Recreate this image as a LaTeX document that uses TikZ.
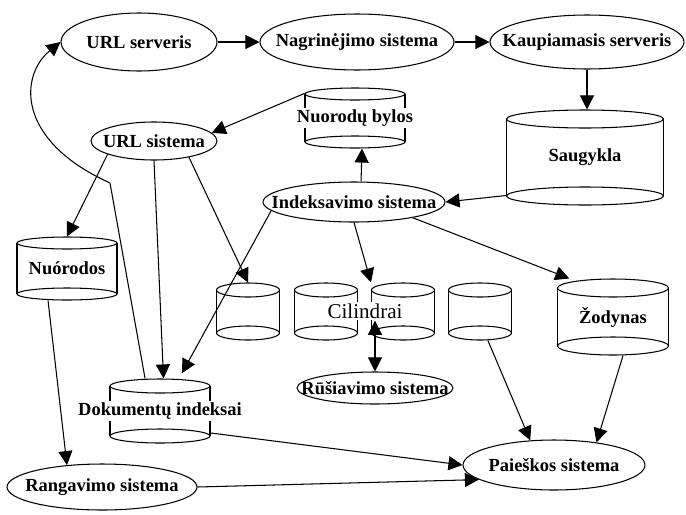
\documentclass[tikz,border=0pt]{standalone}
\usepackage{fontspec}
\setmainfont{Liberation Serif}
\usetikzlibrary{shapes.geometric,arrows.meta,fit}

% cylinder: name, x, top y, bottom y, half width, ellipse radius
\newcommand{\dbcyl}[6]{%
  \draw (#2-#5,#3) -- (#2-#5,#4) (#2+#5,#3) -- (#2+#5,#4);
  \draw (#2,#3) ellipse (#5 and #6);
  \draw (#2,#4) ellipse (#5 and #6);
  \coordinate (#1-tl) at (#2-#5,#3-#6);
  \coordinate (#1-br) at (#2+#5,#4+#6);
  \node[fit=(#1-tl)(#1-br), inner sep=0pt] (#1) {};
}

\begin{document}
\begin{tikzpicture}[x=0.02cm, y=-0.02cm, line width=0.6pt,
  proc/.style={ellipse, draw, inner sep=0pt,
    font=\bfseries\fontsize{10.5}{12}\selectfont,
    execute at begin node={\hbox to 0pt\bgroup\hss},
    execute at end node={\hss\egroup}},
  dbtext/.style={fill=white, inner sep=1pt,
    font=\bfseries\fontsize{10.5}{12}\selectfont},
  arr/.style={-{Triangle[length=8pt,width=8pt]}},
  arrboth/.style={{Triangle[length=8pt,width=8pt]}-{Triangle[length=8pt,width=8pt]}}]

\useasboundingbox (0,0) rectangle (686,514);

% processes
\node[proc, minimum width=3.12cm, minimum height=1.16cm] (urlserv) at (139,42) {URL serveris};
\node[proc, minimum width=3.88cm, minimum height=1.12cm] (nagr) at (357,42) {Nagrinėjimo sistema};
\node[proc, minimum width=3.88cm, minimum height=1.08cm] (kaup) at (587,42) {Kaupiamasis serveris};
\node[proc, minimum width=2.52cm, minimum height=0.76cm] (urlsys) at (154,141) {URL sistema};
\node[proc, minimum width=3.64cm, minimum height=0.8cm] (indeks) at (354,202) {Indeksavimo sistema};
\node[proc, minimum width=3.12cm, minimum height=0.64cm] (rusi) at (375,388) {Rūšiavimo sistema};
\node[proc, minimum width=3.8cm, minimum height=0.92cm] (rang) at (102,487) {Rangavimo sistema};
\node[proc, minimum width=3.64cm, minimum height=1.0cm] (paie) at (554,465) {Paieškos sistema};

% storage
\dbcyl{saug}{585}{119}{196}{78.5}{9}
\dbcyl{nbylos}{355}{94}{142}{50}{6}
\dbcyl{nuor}{67}{243}{294}{50}{6}
\dbcyl{cyl1}{248}{290}{333}{31.5}{7}
\dbcyl{cyl2}{326}{290}{333}{31.5}{7}
\dbcyl{cyl3}{403}{290}{333}{31.5}{7}
\dbcyl{cyl4}{480}{290}{333}{31.5}{7}
\dbcyl{zod}{613}{288}{346}{55.5}{9}
\dbcyl{dok}{160}{386}{436}{50}{7}

\node[dbtext] at (saug) {Saugykla};
\node[dbtext] at (nbylos) {Nuorodų bylos};
\node[dbtext] at (nuor) {Nuórodos};
\node[dbtext] at (zod) {Žodynas};
\node[dbtext] at (dok) {Dokumentų indeksai};
\node[fill=white, inner sep=1pt, font=\fontsize{12}{14}\selectfont] (cil) at (365,311) {Cilindrai};

\coordinate (bend) at (110,183);

% connectors
\draw[arr] (urlserv.east) -- (nagr.west);
\draw[arr] (nagr.east) -- (kaup.west);
\draw[arr] (kaup.south) -- (kaup.south |- saug.north);
\draw[arr] ([yshift=5.7pt]saug.south west) -- (indeks.east);
\draw[arr] ([xshift=4pt]indeks.north) -- ([xshift=4pt]nbylos.south);
\draw[arr] ([yshift=-3.4pt]nbylos.north west) -- (urlsys.8);
\draw[arr] ([xshift=-8.5pt]dok.north) -- (bend) .. controls (15,140) and (20,75) .. (urlserv.west);
\draw[arr] (urlsys.196) -- (nuor.north);
\draw[arr] ([xshift=-10.8pt]nuor.south) -- (rang.148);
\draw[arr] (urlsys.south) -- ([xshift=2pt]dok.north);
\draw[arr] (urlsys.335) -- (cyl1.north);
\draw[arr] (indeks.186) -- ([xshift=12.5pt,yshift=3pt]dok.north);
\draw[arr] (indeks.south) -- (cyl3.north west);
\draw[arr] (indeks.345) -- ([xshift=7pt]zod.north west);
\draw[arrboth] (rusi.north) -- (rusi.north |- cil.south);
\draw[arr] ([yshift=-12.5pt]dok.east) -- (paie.west);
\draw[arr] (rang.east) -- (paie.191);
\draw[arr] ([xshift=4.5pt]cyl4.south) -- (paie.134);
\draw[arr] ([xshift=5.7pt]zod.south) -- (paie.28);

\end{tikzpicture}
\end{document}
